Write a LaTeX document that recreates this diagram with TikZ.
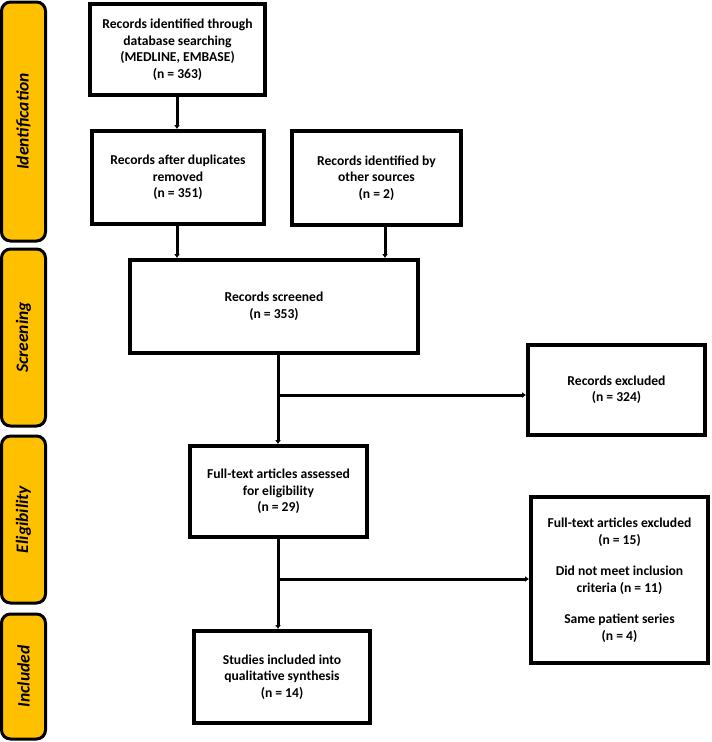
\documentclass[tikz,border=0pt]{standalone}
\usepackage{fontspec}
\setmainfont{Carlito}
\usetikzlibrary{arrows.meta}
\definecolor{barfill}{HTML}{FFC000}
\tikzset{
  box/.style={draw=black, line width=4pt, fill=white, align=center, inner sep=2pt,
    font=\fontsize{13.6}{16.5}\selectfont\bfseries},
  phase/.style={draw=black, line width=3pt, fill=barfill, rounded corners=9pt, minimum width=44pt,
    inner sep=0pt},
  phaselabel/.style={rotate=90, font=\fontsize{17.5}{19}\selectfont\bfseries\itshape},
  flow/.style={line width=3pt, -{Latex[length=4pt,width=6pt]}},
}
\begin{document}
\begin{tikzpicture}[x=1pt,y=-1pt]
\useasboundingbox (0,0) rectangle (712,742);
% phase bars
\node[phase, minimum height=239pt] (pid) at (23.5,121.5) {};
\node[phaselabel] (lid) at (pid.center) {Identification};
\node[phase, minimum height=177pt] (psc) at (23.5,337.5) {};
\node[phaselabel] (lsc) at (psc.center) {Screening};
\node[phase, minimum height=167pt] (pel) at (23.5,519.5) {};
\node[phaselabel] (lel) at (pel.center) {Eligibility};
\node[phase, minimum height=125pt] (pin) at (23.5,676.5) {};
\node[phaselabel] (lin) at (pin.center) {Included};
% boxes
\node[box, minimum width=175pt, minimum height=91pt] (b1) at (177.5,49.5)
  {Records identified through\\database searching\\(MEDLINE, EMBASE)\\(n = 363)};
\node[box, minimum width=172pt, minimum height=93pt] (b2) at (178,177.5)
  {Records after duplicates\\removed\\(n = 351)};
\node[box, minimum width=169pt, minimum height=94pt] (b3) at (376.5,178)
  {Records identified by\\other sources\\(n = 2)};
\node[box, minimum width=288pt, minimum height=93pt] (b4) at (274,306.5)
  {Records screened\\(n = 353)};
\node[box, minimum width=177pt, minimum height=90pt] (b5) at (616.5,390)
  {Records excluded\\(n = 324)};
\node[box, minimum width=177pt, minimum height=91pt] (b6) at (278.5,491.5)
  {Full-text articles assessed\\for eligibility\\(n = 29)};
\node[box, minimum width=177pt, minimum height=166pt] (b7) at (619.5,580)
  {Full-text articles excluded\\(n = 15)\\[15pt]Did not meet inclusion\\criteria (n = 11)\\[15pt]Same patient series\\(n = 4)};
\node[box, minimum width=176pt, minimum height=92pt] (b8) at (282,677)
  {Studies included into\\qualitative synthesis\\(n = 14)};
% connectors
\coordinate (j1) at (278,395);
\coordinate (j2) at (278,579);
\draw[flow] (b1.south -| 177,0) -- (b2.north -| 177,0);
\draw[flow] (b2.south -| 177,0) -- (b4.north -| 177,0);
\draw[flow] (b3.south -| 385,0) -- (b4.north -| 385,0);
\draw[flow] (b4.south -| 278,0) -- (b6.north -| 278,0);
\draw[flow] (j1) -- (j1 -| b5.west);
\draw[flow] (b6.south -| 278,0) -- (b8.north -| 278,0);
\draw[flow] (j2) -- (j2 -| b7.west);
\end{tikzpicture}
\end{document}
